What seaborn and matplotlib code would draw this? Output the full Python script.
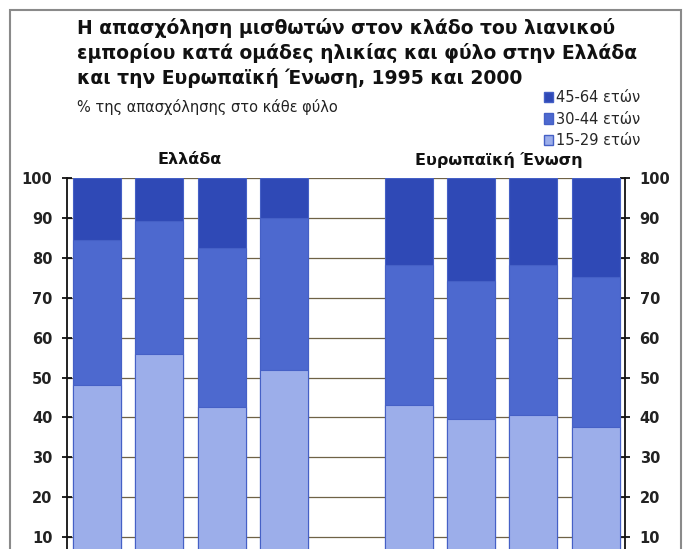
import matplotlib
matplotlib.use("Agg")
import matplotlib.pyplot as plt
import seaborn as sns
import pandas as pd
import numpy as np
from matplotlib.patches import Rectangle, Patch

# ---- data ----
categories = ["ΕΛ Άνδρες 1995", "ΕΛ Άνδρες 2000", "ΕΛ Γυναίκες 1995", "ΕΛ Γυναίκες 2000",
              "ΕΕ Άνδρες 1995", "ΕΕ Άνδρες 2000", "ΕΕ Γυναίκες 1995", "ΕΕ Γυναίκες 2000"]
age_15_29 = [48.2, 55.9, 42.6, 51.8, 43.2, 39.5, 40.6, 37.6]
age_30_44 = [36.2, 33.3, 39.9, 38.2, 35.1, 34.7, 37.7, 37.6]
age_45_64 = [15.6, 10.8, 17.5, 10.0, 21.7, 25.8, 21.7, 24.8]
series_labels = ["15-29 ετών", "30-44 ετών", "45-64 ετών"]
yticks = [10, 20, 30, 40, 50, 60, 70, 80, 90, 100]
group_labels = ["Ελλάδα", "Ευρωπαϊκή Ένωση"]
title = ("Η απασχόληση μισθωτών στον κλάδο του λιανικού\n"
         "εμπορίου κατά ομάδες ηλικίας και φύλο στην Ελλάδα\n"
         "και την Ευρωπαϊκή Ένωση, 1995 και 2000")
subtitle = "% της απασχόλησης στο κάθε φύλο"

colors = ["#9caeea", "#4d69cf", "#2f49b6"]
edge = "#4560c6"

sns.set_theme(style="white")
plt.rcParams['font.family'] = ['DejaVu Sans']

df = pd.DataFrame({"cat": categories,
                   "y1": age_15_29, "y2": age_30_44, "y3": age_45_64})
df["c1"] = df["y1"]
df["c2"] = df["y1"] + df["y2"]
df["c3"] = df["y1"] + df["y2"] + df["y3"]

order = categories[:4] + [" "] + categories[4:]

fig = plt.figure(figsize=(6.87, 5.49), dpi=100)
fig.patch.set_facecolor("white")
ax = fig.add_axes([67/687, 1 - 577/549, (625-67)/687, (577-178)/549])
ax.set_facecolor("white")

for col, c in zip(["c3", "c2", "c1"], colors[::-1]):
    sns.barplot(data=df, x="cat", y=col, order=order, color=c, saturation=1,
                width=0.77, edgecolor=edge, linewidth=0.8, ax=ax, zorder=3)

ax.set_xlim(-0.48, 8.47)
ax.set_ylim(0, 100)
ax.set_yticks(yticks)
ax.set_yticklabels([str(t) for t in yticks])
ax.set_xlabel("")
ax.set_ylabel("")
ax.set_xticklabels([])
ax.grid(axis="y", color="#6f6246", linewidth=0.9, zorder=0)
ax.set_axisbelow(True)
for s in ["top", "bottom"]:
    ax.spines[s].set_visible(False)
for s in ["left", "right"]:
    ax.spines[s].set_visible(True)
    ax.spines[s].set_color("#111111")
    ax.spines[s].set_linewidth(1.3)
ax.tick_params(axis="y", which="both", left=True, right=True, labelleft=True,
               labelright=True, direction="inout", length=7, width=1.3,
               color="#111111", labelsize=10.5, pad=7)
for lab in ax.get_yticklabels():
    lab.set_fontweight("bold")
    lab.set_color("#222222")
ax.tick_params(axis="x", bottom=False)

# group labels
fig.text(190/687, 1 - 160/549, group_labels[0], ha="center", va="center",
         fontsize=11.5, fontweight="bold", color="#111111")
fig.text(499/687, 1 - 160/549, group_labels[1], ha="center", va="center",
         fontsize=11.5, fontweight="bold", color="#111111")

# title and subtitle
fig.text(77/687, 1 - 18/549, title, ha="left", va="top", fontsize=13.5,
         fontweight="bold", color="#111111", linespacing=1.3)
fig.text(77/687, 1 - 107/549, subtitle, ha="left", va="center", fontsize=10.5,
         color="#222222")

# legend
handles = [Patch(facecolor=colors[2], edgecolor=edge, label=series_labels[2]),
           Patch(facecolor=colors[1], edgecolor=edge, label=series_labels[1]),
           Patch(facecolor=colors[0], edgecolor=edge, label=series_labels[0])]
fig.legend(handles=handles, loc="upper left", bbox_to_anchor=(544/687, 1 - 90/549),
           frameon=False, fontsize=10.5, handlelength=0.6, handleheight=0.7,
           handletextpad=0.25, labelspacing=0.45, borderaxespad=0, borderpad=0)

# outer frame
fig.patches.append(Rectangle((10/687, -0.1), (681-10)/687, 1.1 - 10/549,
                             transform=fig.transFigure, fill=False,
                             edgecolor="#8a8a8a", linewidth=1.5))

fig.savefig("out.png", dpi=100, facecolor="white")
